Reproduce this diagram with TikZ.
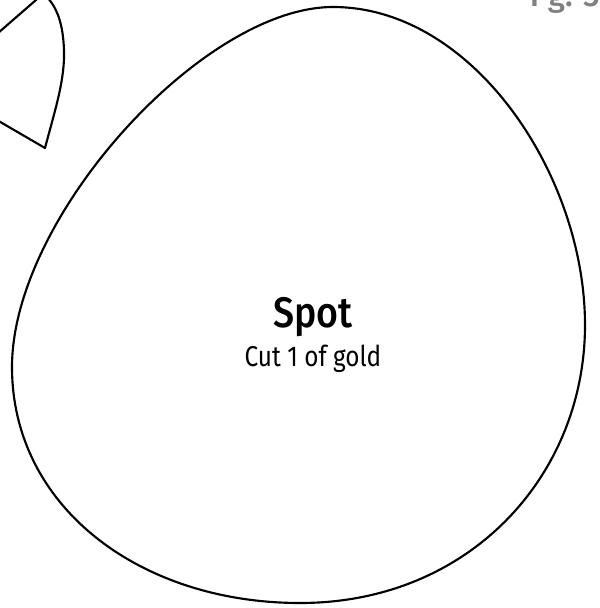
\documentclass[tikz,border=0pt]{standalone}
\usepackage{fontspec}
\setmainfont{Fira Sans}
\newfontfamily\titlefont[FakeStretch=0.88]{Fira Sans Medium}
\newfontfamily\bodyfont[FakeStretch=0.85]{Fira Sans}
\newfontfamily\pgfont{Fira Sans Medium}
\definecolor{pggray}{HTML}{808080}
\tikzset{outline/.style={draw=black, line width=1.6pt, line join=round}}
\begin{document}
\begin{tikzpicture}[x=0.75pt, y=-0.75pt]
\useasboundingbox (0,0) rectangle (600,608);
\clip (0,0) rectangle (600,608);
% small partial shape
\draw[outline] (-10,116) -- (45,148) .. controls (55,110) and (65,80) .. (64,50)
  .. controls (63,25) and (58,10) .. (48,-2) .. controls (44,-7) and (40,-5) .. (36,0) -- (-10,40);
% big spot
\draw[outline] (333,7) .. controls (473,7) and (585,175) .. (585,325)
  .. controls (585,475) and (470,603) .. (300,603)
  .. controls (140,603) and (12,507) .. (12,367)
  .. controls (12,217) and (203,7) .. (333,7) -- cycle;
\node[anchor=base, font=\titlefont\fontsize{32}{36}\selectfont] (title) at (313,327) {Spot};
\node[anchor=base, font=\bodyfont\fontsize{21.5}{24}\selectfont] (sub) at (313,366) {Cut 1 of gold};
\node[anchor=base east, text=pggray, font=\pgfont\fontsize{24}{26}\selectfont, inner sep=0pt] (pg) at (600,6) {Pg. 3};
\end{tikzpicture}
\end{document}
